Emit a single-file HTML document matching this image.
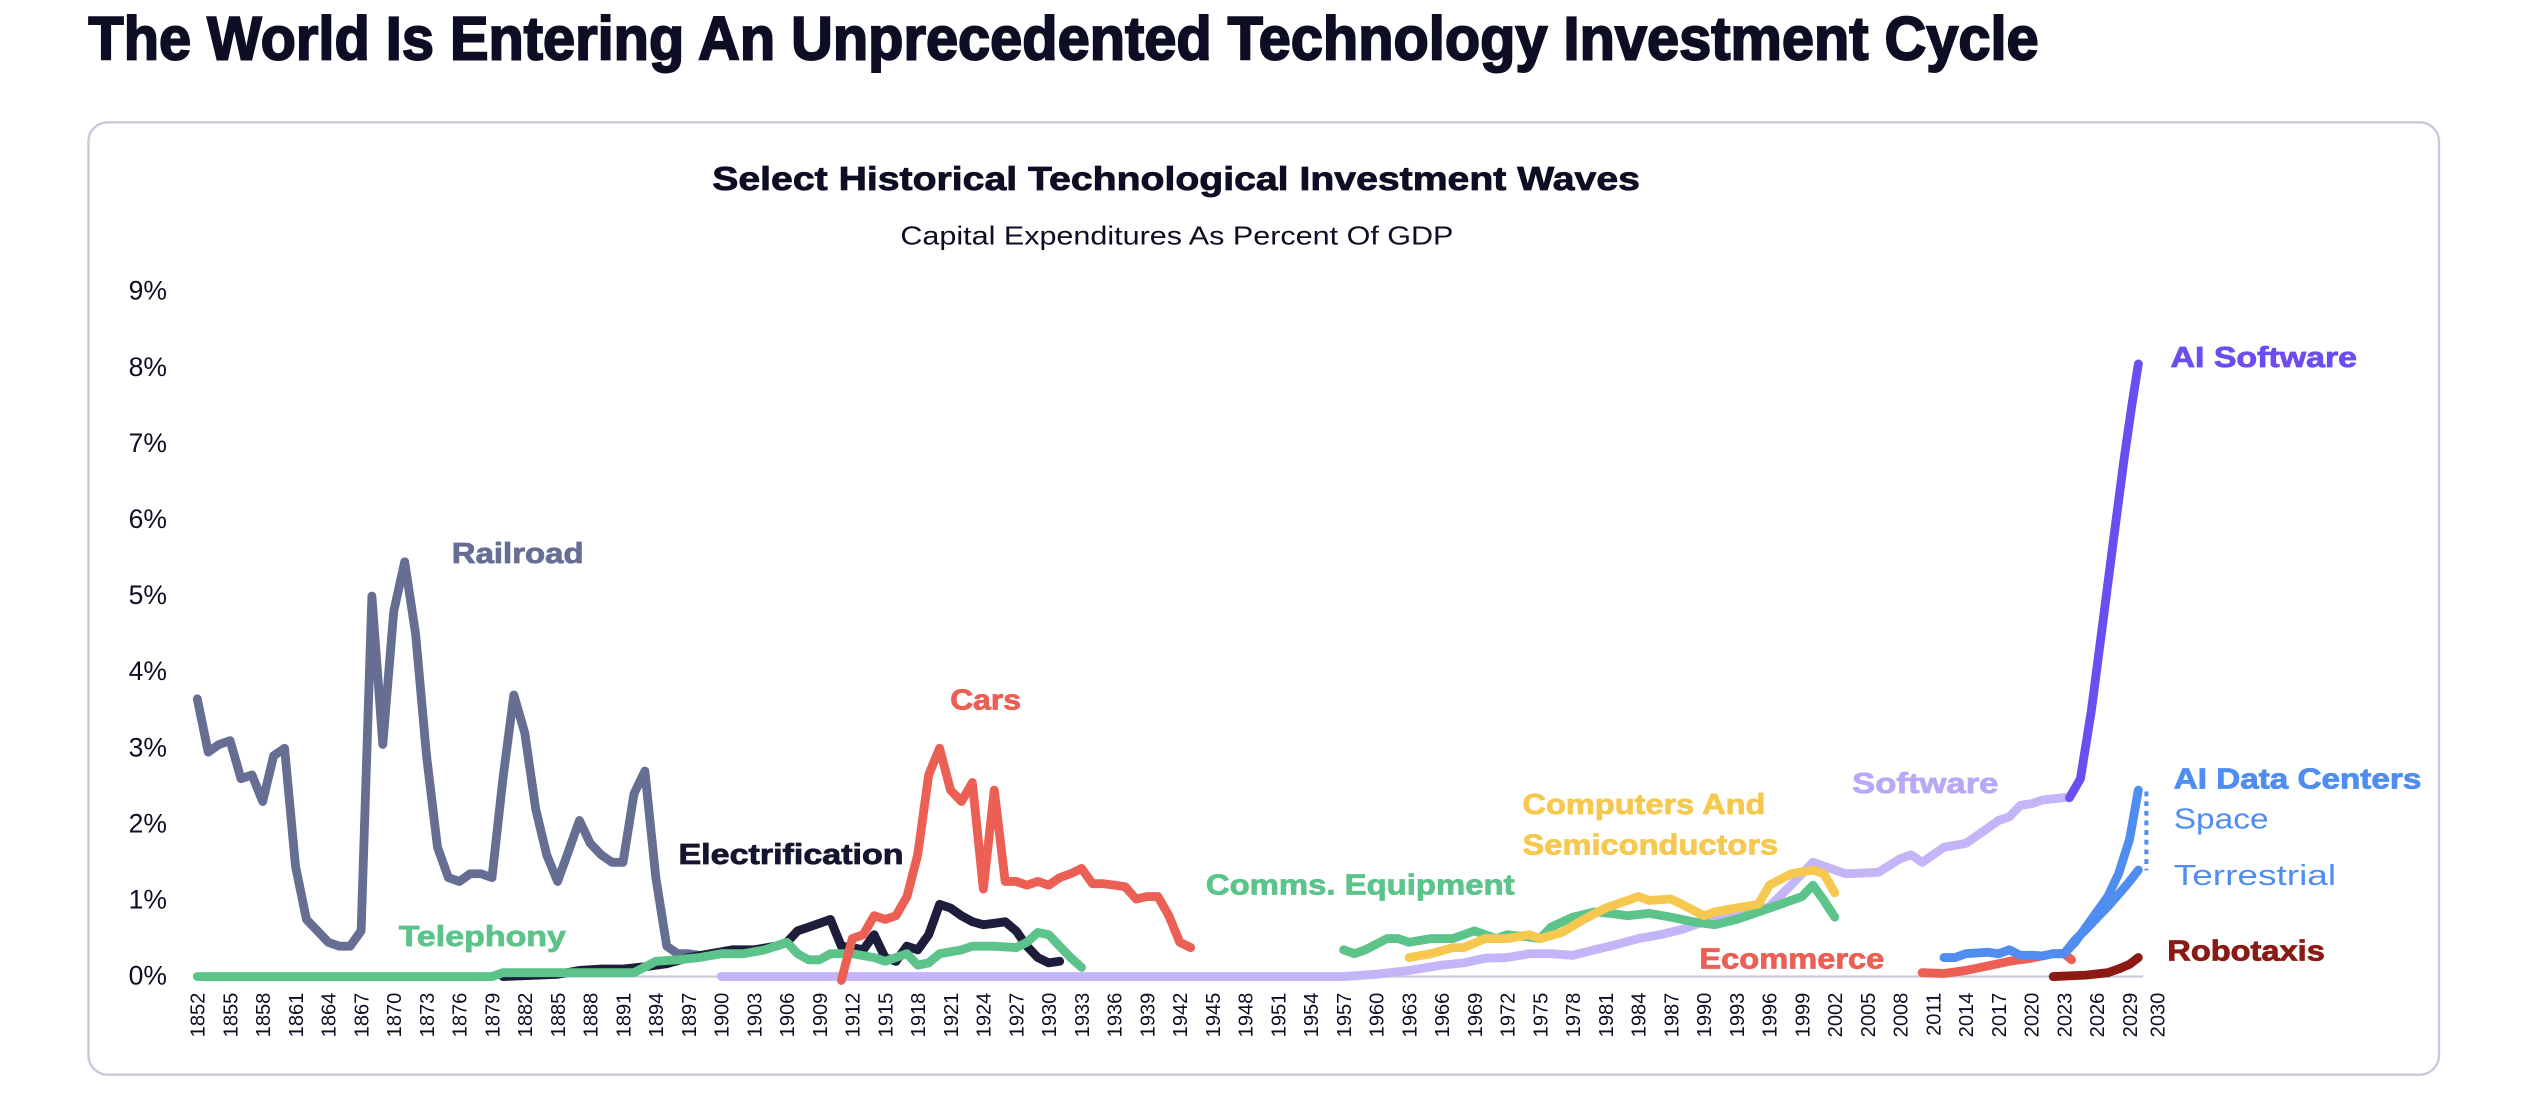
<!DOCTYPE html>
<html><head><meta charset="utf-8"><style>
html,body{margin:0;padding:0;background:#fff;}
svg{display:block;}
text{font-family:"Liberation Sans",sans-serif;}
</style></head><body>
<svg id="s" width="2521" height="1094" viewBox="0 0 1568 680" preserveAspectRatio="none" xmlns="http://www.w3.org/2000/svg">
<text x="55" y="37" font-size="38" font-weight="bold" fill="#0d0d24" stroke="#0d0d24" stroke-width="1.2" textLength="1213" lengthAdjust="spacingAndGlyphs">The World Is Entering An Unprecedented Technology Investment Cycle</text>
<rect x="55" y="76" width="1462" height="592" rx="12" fill="#fff" stroke="#c9c9dc" stroke-width="1.5"/>
<text x="443" y="118" font-size="21" font-weight="bold" fill="#0d0d24" stroke="#0d0d24" stroke-width="0.5" textLength="577" lengthAdjust="spacingAndGlyphs">Select Historical Technological Investment Waves</text>
<text x="560" y="152" font-size="16" fill="#0d0d24" textLength="344" lengthAdjust="spacingAndGlyphs">Capital Expenditures As Percent Of GDP</text>
<g id="yl" font-size="16.5" fill="#0d0d24"></g>
<line x1="120" y1="607" x2="1333" y2="607" stroke="#cfcfdc" stroke-width="1.5"/>
<g id="xl" font-size="12.5" fill="#0d0d24"></g>
<g id="lines" fill="none" stroke-width="5.5" stroke-linejoin="round" stroke-linecap="round"></g>
<line x1="1335" y1="492" x2="1335" y2="541" stroke="#4f8df0" stroke-width="2.5" stroke-dasharray="3 3"/>
<g font-size="18" font-weight="bold" stroke-width="0.5">
<text x="281" y="350" fill="#676e94" stroke="#676e94" textLength="82" lengthAdjust="spacingAndGlyphs">Railroad</text>
<text x="591" y="441" fill="#ec5f55" stroke="#ec5f55" textLength="44" lengthAdjust="spacingAndGlyphs">Cars</text>
<text x="422" y="537" fill="#15152e" stroke="#15152e" textLength="140" lengthAdjust="spacingAndGlyphs">Electrification</text>
<text x="248" y="588" fill="#5cc48a" stroke="#5cc48a" textLength="104" lengthAdjust="spacingAndGlyphs">Telephony</text>
<text x="750" y="556" fill="#5cc48a" stroke="#5cc48a" textLength="192" lengthAdjust="spacingAndGlyphs">Comms. Equipment</text>
<text x="947" y="506" fill="#f6c84f" stroke="#f6c84f" textLength="151" lengthAdjust="spacingAndGlyphs">Computers And</text>
<text x="947" y="531" fill="#f6c84f" stroke="#f6c84f" textLength="159" lengthAdjust="spacingAndGlyphs">Semiconductors</text>
<text x="1152" y="493" fill="#b9a8f7" stroke="#b9a8f7" textLength="91" lengthAdjust="spacingAndGlyphs">Software</text>
<text x="1057" y="602" fill="#ec5f55" stroke="#ec5f55" textLength="115" lengthAdjust="spacingAndGlyphs">Ecommerce</text>
<text x="1350" y="228" fill="#6c4ef0" stroke="#6c4ef0" textLength="116" lengthAdjust="spacingAndGlyphs">AI Software</text>
<text x="1352" y="490" fill="#4f8df0" stroke="#4f8df0" textLength="154" lengthAdjust="spacingAndGlyphs">AI Data Centers</text>
<text x="1348" y="597" fill="#8b1a14" stroke="#8b1a14" textLength="98" lengthAdjust="spacingAndGlyphs">Robotaxis</text>
</g>
<text x="1352" y="515" font-size="18" fill="#4f8df0" textLength="59" lengthAdjust="spacingAndGlyphs">Space</text>
<text x="1352" y="550" font-size="18" fill="#4f8df0" textLength="101" lengthAdjust="spacingAndGlyphs">Terrestrial</text>
</svg>
<script>
var NS="http://www.w3.org/2000/svg";
function X(y){return 122.7+(y-1852)*6.79;}
function Y(v){return 607-v*47.3;}
var yl=document.getElementById('yl');
for(var i=0;i<=9;i++){var t=document.createElementNS(NS,'text');t.setAttribute('x',80);t.setAttribute('y',Y(i)+5);t.textContent=i+'%';yl.appendChild(t);}
var xl=document.getElementById('xl');
function xlab(yr,x){var t=document.createElementNS(NS,'text');t.setAttribute('transform','translate('+(x+4.5)+',617) rotate(-90)');t.setAttribute('text-anchor','end');t.textContent=yr;xl.appendChild(t);}
for(var y=1852;y<=2029;y+=3)xlab(y,X(y));
xlab(2030,1341.7);
var S=[
['#c4b5f8',[1900,0,1957,0,1960,0.03,1963,0.08,1966,0.15,1968,0.18,1970,0.24,1972,0.25,1974,0.3,1976,0.3,1978,0.28,1980,0.35,1982,0.42,1984,0.5,1986,0.55,1988,0.62,1990,0.72,1992,0.78,1994,0.82,1996,0.92,1998,1.2,2000,1.5,2001,1.45,2003,1.35,2006,1.37,2008,1.55,2009,1.6,2010,1.5,2012,1.7,2014,1.75,2016,1.95,2017,2.05,2018,2.1,2019,2.25,2020,2.27,2021,2.32,2023,2.35,2023.5,2.35]],
['#676e94',[1852,3.65,1853,2.95,1854,3.05,1855,3.1,1856,2.6,1857,2.65,1858,2.3,1859,2.9,1860,3.0,1861,1.45,1862,0.75,1863,0.6,1864,0.45,1865,0.4,1866,0.4,1867,0.6,1868,5.0,1869,3.05,1870,4.8,1871,5.45,1872,4.5,1873,2.9,1874,1.7,1875,1.3,1876,1.25,1877,1.35,1878,1.35,1879,1.3,1880,2.6,1881,3.7,1882,3.2,1883,2.2,1884,1.6,1885,1.25,1886,1.65,1887,2.05,1888,1.75,1889,1.6,1890,1.5,1891,1.5,1892,2.4,1893,2.7,1894,1.3,1895,0.4,1896,0.3,1897,0.3,1898,0.28]],
['#1e1e3c',[1880,0.0,1885,0.03,1887,0.08,1889,0.1,1891,0.1,1893,0.13,1895,0.17,1897,0.25,1899,0.3,1901,0.35,1903,0.35,1905,0.4,1906,0.45,1907,0.6,1908,0.65,1909,0.7,1910,0.75,1911,0.4,1912,0.38,1913,0.35,1914,0.55,1915,0.25,1916,0.2,1917,0.4,1918,0.35,1919,0.55,1920,0.95,1921,0.9,1922,0.8,1923,0.72,1924,0.68,1925,0.7,1926,0.72,1927,0.6,1928,0.4,1929,0.25,1930,0.18,1931,0.2]],
['#5cc48a',[1852,0,1879,0,1880,0.05,1892,0.05,1894,0.2,1896,0.22,1898,0.25,1900,0.3,1902,0.3,1904,0.35,1906,0.45,1907,0.3,1908,0.22,1909,0.22,1910,0.3,1912,0.3,1914,0.25,1915,0.2,1916,0.25,1917,0.3,1918,0.15,1919,0.18,1920,0.3,1922,0.35,1923,0.4,1925,0.4,1927,0.38,1928,0.45,1929,0.58,1930,0.55,1931,0.4,1932,0.25,1933,0.12]],
['#ec5f55',[1911,-0.05,1912,0.5,1913,0.55,1914,0.8,1915,0.75,1916,0.8,1917,1.05,1918,1.6,1919,2.65,1920,3.0,1921,2.45,1922,2.3,1923,2.55,1924,1.15,1925,2.45,1926,1.25,1927,1.25,1928,1.2,1929,1.25,1930,1.2,1931,1.3,1932,1.35,1933,1.42,1934,1.22,1935,1.22,1936,1.2,1937,1.18,1938,1.02,1939,1.05,1940,1.05,1941,0.8,1942,0.45,1943,0.38]],
['#5cc48a',[1957,0.35,1958,0.3,1959,0.35,1961,0.5,1962,0.5,1963,0.45,1965,0.5,1967,0.5,1969,0.6,1971,0.5,1972,0.55,1974,0.52,1975,0.5,1976,0.65,1978,0.78,1980,0.85,1982,0.82,1983,0.8,1985,0.83,1987,0.78,1989,0.72,1991,0.68,1993,0.75,1995,0.85,1997,0.95,1999,1.05,2000,1.2,2001,1.0,2002,0.78]],
['#f6c84f',[1963,0.25,1965,0.3,1967,0.38,1968,0.38,1970,0.5,1972,0.5,1974,0.55,1975,0.5,1977,0.58,1979,0.75,1981,0.9,1983,1.0,1984,1.05,1985,1.0,1987,1.02,1988,0.95,1990,0.8,1991,0.85,1993,0.9,1995,0.95,1996,1.2,1998,1.35,2000,1.4,2001,1.35,2002,1.1]],
['#ec5f55',[2010,0.05,2012,0.04,2014,0.08,2016,0.14,2018,0.2,2020,0.24,2022,0.3,2023,0.3,2023.7,0.22]],
['#4f8df0',[2012,0.25,2013,0.25,2014,0.3,2016,0.32,2017,0.3,2018,0.35,2019,0.28,2020,0.28,2021,0.27,2022,0.3,2023,0.3,2024,0.45,2025,0.65,2026,0.85,2027,1.05,2028,1.35,2029,1.8,2029.8,2.45]],
['#4f8df0',[2023,0.3,2024,0.48,2025,0.62,2026,0.77,2027,0.92,2028,1.08,2029,1.25,2029.8,1.4]],
['#8b1a14',[2022,0,2025,0.02,2027,0.05,2028,0.1,2029,0.16,2029.8,0.25]],
['#6c4ef0',[2023.5,2.35,2024.5,2.6,2025.5,3.5,2026.5,4.6,2027.5,5.7,2028.5,6.8,2029.2,7.5,2029.8,8.05]]
];
var g=document.getElementById('lines');
S.forEach(function(s){var a=s[1],d='';for(var i=0;i<a.length;i+=2){d+=(i?'L':'M')+X(a[i]).toFixed(1)+','+Y(a[i+1]).toFixed(1);}
var p=document.createElementNS(NS,'path');p.setAttribute('d',d);p.setAttribute('stroke',s[0]);g.appendChild(p);});
</script>
</body></html>
